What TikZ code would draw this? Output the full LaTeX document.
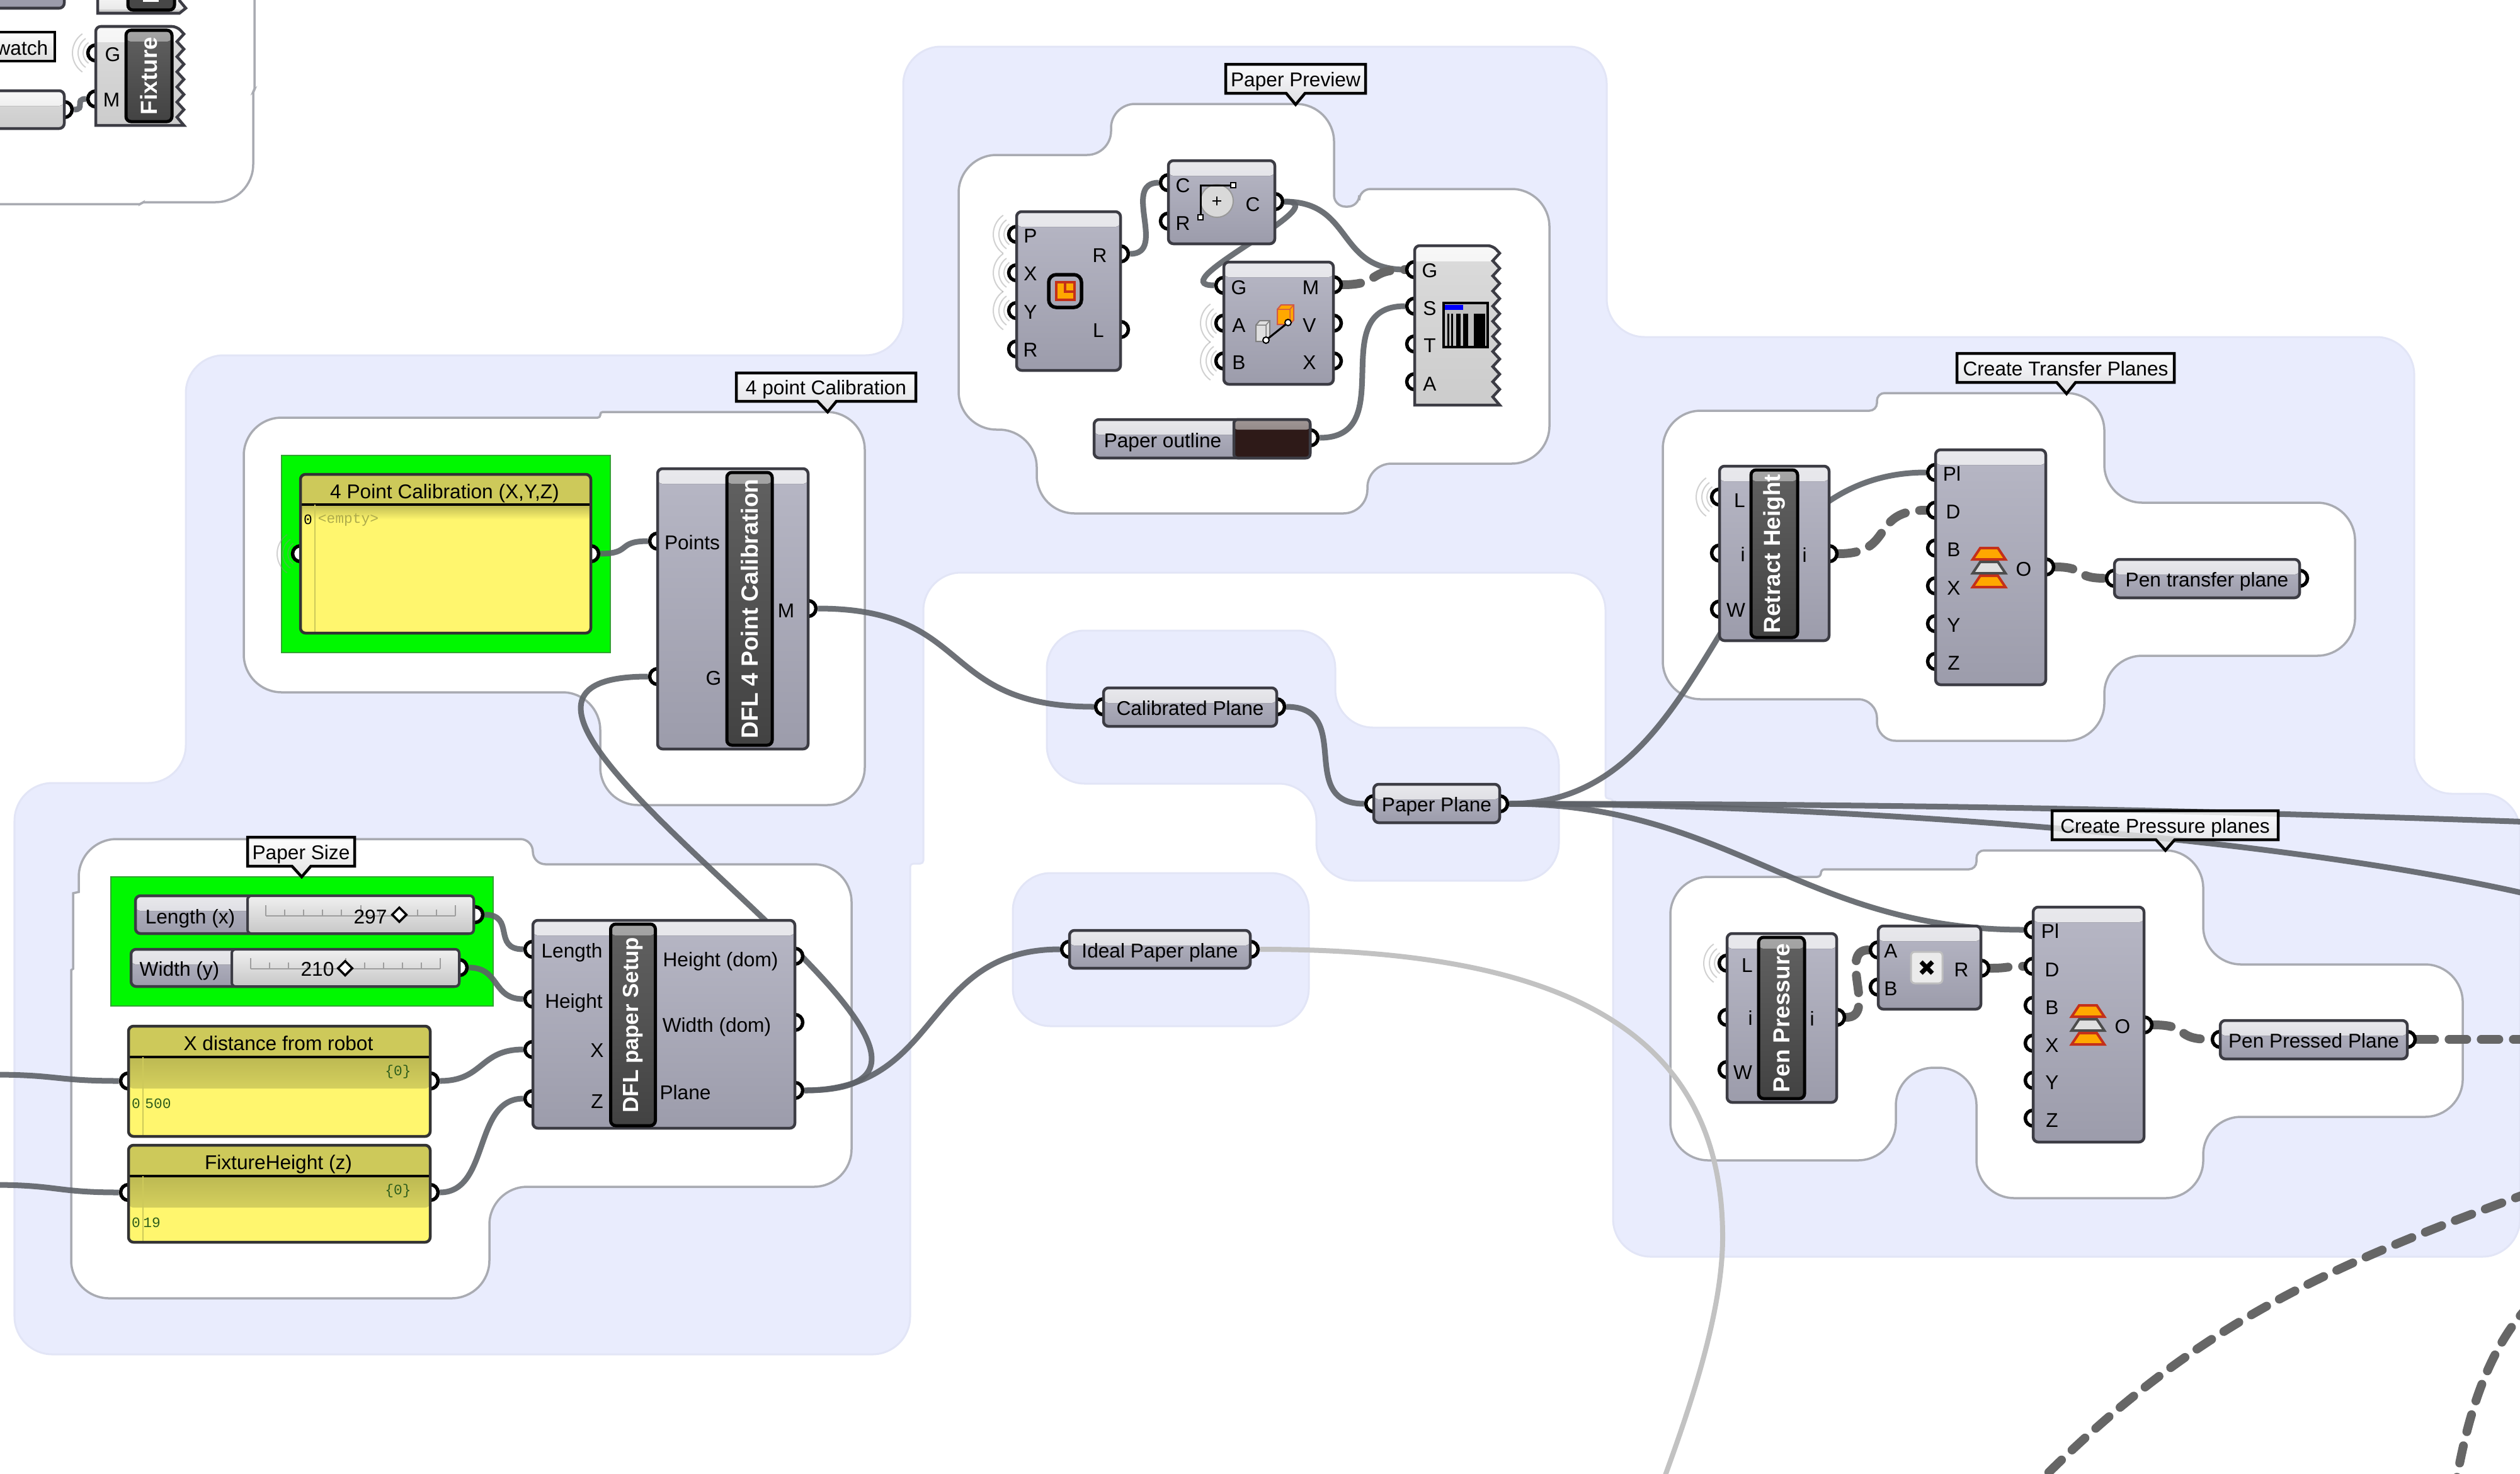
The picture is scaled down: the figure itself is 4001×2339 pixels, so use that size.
\documentclass[tikz,border=0pt]{standalone}
\usepackage{fontspec}
\setmainfont{Liberation Sans}
\setmonofont{Liberation Mono}
\usetikzlibrary{shapes.geometric,shapes.callouts}
\definecolor{lav}{HTML}{E9ECFD}
\definecolor{lavline}{HTML}{E2E5F6}
\definecolor{grpline}{HTML}{A9ABB2}
\definecolor{wirecol}{HTML}{5E6268}
\definecolor{compline}{HTML}{3C3C44}
\definecolor{comptop}{HTML}{B7B7C5}
\definecolor{compbot}{HTML}{9C9CAB}
\definecolor{bandtop}{HTML}{E8E8EC}
\definecolor{bandbot}{HTML}{D4D4DA}
\definecolor{bright}{HTML}{FFF66E}
\definecolor{head}{HTML}{CDC95A}
\definecolor{green1}{HTML}{00F800}
\definecolor{datacol}{HTML}{2F5E1C}
\definecolor{orange1}{HTML}{FFA800}
\definecolor{red1}{HTML}{C4301A}
\definecolor{swatch}{HTML}{2E1A18}
\newcommand{\ppb}{path picture bounding box}
\newcommand{\pfont}{\fontsize{9}{11}\selectfont}
\newcommand{\zigbox}[5]{\draw[zig body] (#1,#4) [rounded corners=.08cm] -- (#1,#3) -- ({#2-11},#3) [sharp corners]
  \foreach \k in {1,...,#5}{ -- (#2,{#3+24*\k-12}) -- ({#2-11},{#3+24*\k}) } -- (#2,#4) -- cycle;}
\newcommand{\halo}[1]{\foreach \r in {20,28,37} \draw[halo line,x=.01cm,y=.01cm] (#1.center) ++(125:\r) arc (125:235:\r);}
\newcommand{\planeicon}[2]{\begin{scope}[shift={(#1,#2)}]
  \foreach \d/\c/\e in {-22/orange1/red1,0/white!88!black/black!70,22/orange1/red1}
    \filldraw[fill=\c,draw=\e,line width=.04cm] (-26,\d+9) -- (-14,\d-9) -- (14,\d-9) -- (26,\d+9) -- cycle;
\end{scope}}
\newcommand{\ticks}[3]{\draw[tick line] (#1,#3) -- (#2,#3);
  \foreach \k in {0,...,10} \draw[tick line] ({#1+(#2-#1)*\k/10},#3) -- ++(0,-10);
  \foreach \k in {0,5,10} \draw[tick line] ({#1+(#2-#1)*\k/10},#3) -- ++(0,-17);}
\pgfdeclarelayer{groups}
\pgfdeclarelayer{wires}
\pgfsetlayers{groups,wires,main}
\begin{document}
\begin{tikzpicture}[x=.01cm,y=-.01cm,font=\pfont,
    sz/.style args={#1x#2}{minimum width=#1*.01cm,minimum height=#2*.01cm},
    lav group/.style={fill=lav,draw=lavline,line width=.03cm,rounded corners=.6cm},
    white group/.style={fill=white,draw=grpline,line width=.035cm,rounded corners=.6cm},
    green node/.style={rectangle,fill=green1,draw=green!55!black!80,line width=.025cm,inner sep=0},
    comp node/.style={rectangle,draw=compline,line width=.045cm,rounded corners=.08cm,inner sep=0,
      top color=comptop,bottom color=compbot,text height=.26cm,text depth=0cm,
      path picture={\fill[top color=bandtop,bottom color=bandbot] (\ppb.north west) rectangle ([yshift=-.24cm]\ppb.north east);}},
    light node/.style={comp node,top color=white!86!black,bottom color=white!80!black,
      path picture={\fill[top color=white!97!black,bottom color=white!90!black] (\ppb.north west) rectangle ([yshift=-.24cm]\ppb.north east);}},
    zig body/.style={draw=compline,line width=.045cm,top color=white!86!black,bottom color=white!80!black,
      path picture={\fill[top color=white!97!black,bottom color=white!90!black] (\ppb.north west) rectangle ([yshift=-.24cm]\ppb.north east);}},
    band node/.style={rectangle,draw=black,line width=.05cm,rounded corners=.08cm,inner sep=0,top color=black!62,bottom color=black!74,
      text=white,font=\fontsize{10.5}{12}\selectfont\bfseries,
      path picture={\fill[top color=black!35,bottom color=black!58] (\ppb.north west) rectangle ([yshift=-.18cm]\ppb.north east);}},
    panel node/.style n args={3}{rectangle,draw=black!80,line width=.045cm,rounded corners=.08cm,inner sep=0,fill=bright,
      path picture={\fill[head] (\ppb.north west) rectangle ([yshift=-#1]\ppb.north east);
        \fill[top color=head!92!black,bottom color=#3] ([yshift=-#1]\ppb.north west) rectangle ([yshift=-#2]\ppb.north east);
        \draw[black,line width=.04cm] ([yshift=-#1]\ppb.north west) -- ([yshift=-#1]\ppb.north east);
        \draw[head,line width=.025cm] ([xshift=.23cm,yshift=-#1]\ppb.north west) -- ([xshift=.23cm]\ppb.south west);}},
    track node/.style={rectangle,draw=compline,line width=.04cm,rounded corners=.06cm,inner sep=0,top color=white!94!black,bottom color=white!78!black},
    swatch node/.style={rectangle,draw=compline,line width=.045cm,rounded corners=.06cm,inner sep=0,fill=swatch,
      path picture={\fill[top color=swatch!45!white,bottom color=swatch!70!white] (\ppb.north west) rectangle ([yshift=-.16cm]\ppb.north east);}},
    tip node/.style={rectangle callout,draw=black,line width=.045cm,top color=white,bottom color=white!86!black,inner sep=0,
      callout pointer width=.3cm,fill opacity=.82,text opacity=1,text height=.24cm,text depth=0cm},
    tip box/.style={rectangle,draw=black,line width=.045cm,top color=white,bottom color=white!86!black,inner sep=0},
    port node/.style={circle,draw=black,fill=white,line width=.055cm,minimum size=.25cm,inner sep=0},
    port label/.style={inner sep=0,text height=.22cm,text depth=0cm},
    data label/.style={inner sep=0,text=datacol,font=\ttfamily\fontsize{6.5}{8}\selectfont},
    halo line/.style={draw=black!45,line width=.02cm,opacity=.4},
    tick line/.style={draw=black!38,line width=.02cm},
    wire/.style={draw=wirecol,line width=.09cm,opacity=.9},
    dash wire/.style={draw=black!60,line width=.14cm,line cap=round,dash pattern=on .28cm off .23cm},
    pale wire/.style={draw=black!24,line width=.08cm},
    gh/.style={out=0,in=180,distance=#1}]
\useasboundingbox (0,0) rectangle (4001,2339);
%%%%% groups
\begin{pgfonlayer}{groups}
\path[lav group] (23,1243) -- (295,1243) -- (295,564) -- (1434,564) -- (1434,74) -- (2551,74) -- (2551,535) -- (3833,535)
  -- (3833,1260) -- (4001,1260) -- (4001,1995) -- (2561,1995) [rounded corners=.05cm] -- (2561,1268) -- (2549,1268) [rounded corners=.6cm] -- (2549,909) -- (1466,909)
  [rounded corners=.05cm] -- (1466,1371) -- (1445,1371) [rounded corners=.6cm] -- (1445,2150) -- (23,2150) -- cycle;
\path[lav group] (1662,1001) -- (2120,1001) -- (2120,1155) -- (2475,1155) -- (2475,1398) -- (2090,1398) -- (2090,1244) -- (1662,1244) -- cycle;
\path[lav group] (1608,1386) -- (2078,1386) -- (2078,1629) -- (1608,1629) -- cycle;
%%%%%
\draw[white group] (-20,324) [rounded corners=.02cm] -- (224,324) -- (226,321) [rounded corners=.6cm] -- (402,321) [rounded corners=.02cm] -- (402,145) -- (404,143) -- (404,-20);
\draw[white group] (387,663) [rounded corners=.04cm] -- (953,663) -- (953,654) [rounded corners=.6cm] -- (1373,654) -- (1373,1278) -- (953,1278) -- (953,1099) -- (387,1099) -- cycle;
\draw[white group] (125,1332) [rounded corners=.2cm] -- (846,1332) -- (846,1372) [rounded corners=.6cm] -- (1352,1372) -- (1352,1884) -- (777,1884) -- (777,2061) -- (113,2061)
  [sharp corners] -- (113,1540) -- (116,1538) -- (116,1418) -- (125,1416) [rounded corners=.6cm] -- cycle;
\draw[white group] (1522,246) [rounded corners=.38cm] -- (1764,246) -- (1764,165) [rounded corners=.6cm] -- (2118,165) [rounded corners=.18cm] -- (2118,328) -- (2158,328) -- (2158,300) [rounded corners=.6cm] -- (2460,300) -- (2460,736)
  [rounded corners=.38cm] -- (2171,736) -- (2171,815) [rounded corners=.6cm] -- (1646,815) -- (1646,682) -- (1522,682) -- cycle;
\draw[white group] (2640,652) [rounded corners=.12cm] -- (2980,652) -- (2980,624) [rounded corners=.6cm] -- (3341,624) -- (3341,798) -- (3739,798) -- (3739,1041) -- (3341,1041) -- (3341,1176)
  [rounded corners=.3cm] -- (2980,1176) -- (2980,1110) [rounded corners=.6cm] -- (2640,1110) -- cycle;
\draw[white group] (2652,1392) [rounded corners=.06cm] -- (2891,1392) -- (2891,1380) [rounded corners=.12cm] -- (3138,1380) -- (3138,1350) [rounded corners=.6cm] -- (3498,1350) -- (3498,1531) -- (3910,1531) -- (3910,1773) -- (3498,1773) -- (3498,1902) -- (3138,1902) -- (3138,1695) -- (3010,1695) -- (3010,1842) -- (2652,1842) -- cycle;
%%%%%
\node[green node,sz=607x205] (paperGreen) at (479.5,1494.5) {};
\node[green node,sz=522x313] (calibGreen) at (708,879.5) {};
\end{pgfonlayer}
%%%%% free ends of wires
\coordinate (offSw) at (-10,1706);
\coordinate (offFix) at (-10,1881);
\coordinate (offLongA) at (4020,1305);
\coordinate (offLongB) at (4020,1421);
\coordinate (offPen) at (4020,1650);
\coordinate (offDashA) at (4020,1892);
\coordinate (offDashB) at (3240,2350);
\coordinate (offDashC) at (4020,2068);
\coordinate (offDashD) at (3900,2350);
\coordinate (paleBend) at (2735,1964);
\coordinate (offPale) at (2641,2350);
%%%%% halos
\foreach \p/\x/\y in {hFixG/152/84,hCalib/477/879,hRectP/1614/372,hRectX/1614/433,hRectY/1614/493,hMoveA/1943/513,hMoveB/1943/573,hRetL/2730/789,hPenL/2742/1529}
  {\coordinate (\p) at (\x,\y); \halo{\p}}
%%%%% ports
\foreach \n/\x/\y in {fixG/152/84,fixM/152/157,swOut/102/174,
    lenOut/754/1452,widOut/729/1536,xIn/204/1716,xOut/683/1716,zIn/204/1893,zOut/683/1893,
    setLen/846/1507,setHei/846/1586,setX/846/1666,setZ/846/1744,setHd/1262/1518,setWd/1262/1623,setPl/1262/1731,
    ptsIn/477/879,ptsOut/938/879,calPts/1044/859,calG/1044/1074,calM/1283/966,
    rectP/1614/372,rectX/1614/433,rectY/1614/493,rectR/1614/554,rectOr/1779/403,rectOl/1779/523,
    circC/1855/290,circR/1855/351,circO/2024/320,
    moveG/1943/453,moveA/1943/513,moveB/1943/573,moveM/2117/452,moveV/2117/513,moveX/2117/573,
    pvG/2246/428,pvS/2246/486,pvT/2246/546,pvA/2246/606,colOut/2080/695,
    cpIn/1752/1122,cpOut/2027/1122,ppIn/2181/1276,ppOut/2381/1276,ideIn/1698/1507,ideOut/1985/1507,
    retL/2730/789,retI/2730/878,retW/2730/967,retO/2904/879,
    tpPl/3073/750,tpD/3073/810,tpB/3073/870,tpX/3073/930,tpY/3073/990,tpZ/3073/1050,tpO/3248/900,
    ptIn/3357/918,ptOut/3651/918,
    penL/2742/1529,penI/2742/1615,penW/2742/1698,penO/2916/1615,
    mulA/2982/1508,mulB/2982/1567,mulR/3145/1537,
    prPl/3228/1476,prD/3228/1534,prB/3228/1596,prX/3228/1656,prY/3228/1715,prZ/3228/1775,prO/3404/1627,
    ppsIn/3525/1650,ppsOut/3822/1650}
  \node[port node] (\n) at (\x,\y) {};
%%%%% top left corner
\draw[draw=compline,fill=compbot,line width=.045cm,rounded corners=.08cm] (-10,-10) rectangle (102,13);
\zigbox{152}{292}{42}{199}{6}
\draw[zig body] (155,-10) -- (155,21) -- (285,21) -- (295,13) -- (285,1) -- (285,-10) -- cycle;
\fill[black!72,draw=black,line width=.05cm,rounded corners=.08cm] (203,-10) rectangle (277,16);
\fill[white] (227,-2) rectangle (252,3);
\node[band node,sz=73x145] (fixBand) at (236.5,120.5) {\rotatebox[origin=c]{90}{Fixture}};
\node[light node,sz=120x60] (swBox) at (42,174) {};
\node[tip box,sz=120x46] (swTip) at (27,74) {};
\node[port label,anchor=east] (swText) at (77,76) {watch};
%%%%% paper size
\node[comp node,sz=537x60] (lenBox) at (483.5,1452) {};
\node[track node,sz=359x60] (lenTrack) at (572.5,1452) {};
\node[port label] (lenText) at (302,1455) {Length (x)};
\ticks{422}{723}{1454}
\node[port label] (lenVal) at (588,1455) {297};
\node[diamond,draw=black,fill=white,line width=.035cm,minimum size=.24cm,inner sep=0] (lenDia) at (634,1452) {};
\node[comp node,sz=521x59] (widBox) at (468.5,1536.5) {};
\node[track node,sz=361x59] (widTrack) at (548.5,1536.5) {};
\node[port label] (widText) at (285,1538) {Width (y)};
\ticks{398}{699}{1538}
\node[port label] (widVal) at (504,1538) {210};
\node[diamond,draw=black,fill=white,line width=.035cm,minimum size=.24cm,inner sep=0] (widDia) at (548,1537) {};
%%%%%
\node[panel node={.49cm}{.99cm}{head!85!bright},sz=479x175] (xPanel) at (443.5,1716.5) {};
\node[port label] (xTitle) at (442,1656) {X distance from robot};
\node[data label] (xSet) at (632,1702) {\{0\}};
\node[data label] (xIdx) at (216,1752) {0};
\node[data label] (xVal) at (251,1752) {500};
\node[panel node={.49cm}{.99cm}{head!85!bright},sz=479x154] (zPanel) at (443.5,1895) {};
\node[port label] (zTitle) at (442,1845) {FixtureHeight (z)};
\node[data label] (zSet) at (632,1891) {\{0\}};
\node[data label] (zIdx) at (216,1941) {0};
\node[data label] (zVal) at (241,1941) {19};
%%%%%
\node[comp node,sz=416x330] (setup) at (1054,1626) {};
\node[band node,sz=71x320,font=\fontsize{9.9}{12}\selectfont\bfseries] (setupBand) at (1005,1627) {\rotatebox[origin=c]{90}{DFL paper Setup}};
%%%%% 4 point calibration
\node[panel node={.48cm}{.72cm}{bright},sz=461x252] (ptsPanel) at (707.5,879) {};
\node[port label] (ptsTitle) at (706,780) {4 Point Calibration (X,Y,Z)};
\node[data label,text=black] (ptsIdx) at (489,825) {0};
\node[data label,text=head!85!black] (ptsEmpty) at (553,825) {<empty>};
\node[comp node,sz=239x445] (calib) at (1163.5,966.5) {};
\node[band node,sz=72x433,font=\fontsize{10.6}{13}\selectfont\bfseries] (calibBand) at (1190,966.5) {\rotatebox[origin=c]{90}{DFL 4 Point Calibration}};
%%%%% paper preview
\node[comp node,sz=165x252] (rect) at (1696.5,462) {};
\node[comp node,sz=169x132] (circ) at (1939.5,321) {};
\node[comp node,sz=174x194] (move) at (2030,513) {};
\zigbox{2246}{2381}{390}{643}{10}
\node[comp node,sz=343x61] (col) at (1908.5,696.5) {};
\node[swatch node,sz=121x61] (colSwatch) at (2019.5,696.5) {};
\node[port label] (colText) at (1846,699) {Paper outline};
%%%%% icons
\draw[black,line width=.055cm,rounded corners=.12cm] (1665,436) rectangle (1717,488);
\filldraw[fill=orange1,draw=red1,line width=.04cm] (1677,448) rectangle (1706,476);
\draw[red1,line width=.035cm] (1691,450) -- (1691,463) -- (1704,463);
\filldraw[fill=white!85!black,draw=black!40,line width=.02cm] (1932,319) circle (.26cm);
\draw[black,line width=.02cm] (1925,319) -- (1939,319) (1932,312) -- (1932,326);
\draw[black,line width=.03cm] (1958,294) -- (1906,294) -- (1906,345);
\filldraw[fill=white,draw=black,line width=.02cm] (1954,290) rectangle (1962,298) (1902,341) rectangle (1910,349);
\filldraw[fill=white!88!black,draw=black!50,line width=.02cm] (1994,516) -- (2000,509) -- (2016,509) -- (2016,535) -- (2010,542) -- (1994,542) -- cycle;
\draw[black!50,line width=.015cm] (1994,516) -- (2010,516) -- (2016,509) (2010,516) -- (2010,542);
\filldraw[fill=orange1,draw=red1!80,line width=.02cm] (2028,491) -- (2034,484) -- (2054,484) -- (2054,508) -- (2048,515) -- (2028,515) -- cycle;
\draw[red1!80,line width=.015cm] (2028,491) -- (2048,491) -- (2054,484) (2048,491) -- (2048,515);
\draw[black,line width=.03cm] (2010,540) -- (2045,512);
\filldraw[fill=white,draw=black,line width=.02cm] (2045,512) circle (.05cm) (2010,540) circle (.05cm);
\filldraw[fill=black!25,draw=black,line width=.035cm] (2292,481) rectangle (2362,551);
\fill[blue] (2294,484) rectangle (2323,492);
\foreach \x/\w in {2298/3,2304/3,2312/7,2323/8,2340/18}
  \fill[black] (\x,498) rectangle ({\x+\w},549);
%%%%% planes
\node[comp node,sz=275x61] (cp) at (1889.5,1122.5) {Calibrated Plane};
\node[comp node,sz=200x61] (pp) at (2281,1275.5) {Paper Plane};
\node[comp node,sz=287x60] (ide) at (1841.5,1507) {Ideal Paper plane};
%%%%% transfer planes
\node[comp node,sz=174x277] (ret) at (2817,878.5) {};
\node[band node,sz=74x266] (retBand) at (2817,879) {\rotatebox[origin=c]{90}{Retract Height}};
\node[comp node,sz=175x373] (tp) at (3160.5,900.5) {};
\node[comp node,sz=294x61] (pt) at (3504,918.5) {Pen transfer plane};
%%%%% pressure planes
\node[comp node,sz=174x268] (pen) at (2829,1616) {};
\node[band node,sz=73x256] (penBand) at (2828.5,1616) {\rotatebox[origin=c]{90}{Pen Pressure}};
\node[comp node,sz=163x132] (mul) at (3063.5,1536) {};
\node[comp node,sz=176x373] (pr) at (3316,1626.5) {};
\node[comp node,sz=297x61] (pps) at (3673.5,1650.5) {Pen Pressed Plane};
\filldraw[fill=white!92!black,draw=black!25,line width=.03cm,rounded corners=.06cm] (3034,1511) rectangle (3084,1561);
\draw[black,line width=.07cm] (3050,1527) -- (3068,1545) (3068,1527) -- (3050,1545);
\planeicon{3158}{901}
\planeicon{3315}{1627}
%%%%% labels
\foreach \t/\x/\y [count=\n] in {G/179/86,M/177/158,
    Length/908/1509,Height/911/1589,X/948/1667,Z/948/1748,Height (dom)/1144/1523,Width (dom)/1138/1627,Plane/1088/1734,
    Points/1099/861,G/1133/1076,M/1248/969,
    P/1636/374,X/1636/434,Y/1636/495,R/1636/555,R/1746/405,L/1744/524,
    C/1878/294,R/1878/354,C/1989/324,
    G/1967/456,A/1967/516,B/1967/575,M/2081/456,V/2079/516,X/2079/575,
    G/2270/429,S/2270/489,T/2270/548,A/2270/609,
    L/2762/794,i/2767/880,W/2756/968,i/2865/881,
    Pl/3099/752,D/3101/812,B/3102/872,X/3102/933,Y/3102/992,Z/3102/1052,O/3213/903,
    L/2774/1532,i/2779/1616,W/2767/1702,i/2877/1617,
    A/3002/1509,B/3002/1569,R/3114/1539,
    Pl/3255/1478,D/3258/1539,B/3258/1599,X/3258/1659,Y/3258/1718,Z/3258/1778,O/3370/1629}
  \node[port label] (lab\n) at (\x,\y) {\t};
%%%%% tooltips
\node[tip node,sz=170x46,callout absolute pointer={(479,1392)}] (tipSize) at (478,1352) {Paper Size};
\node[tip node,sz=285x45,callout absolute pointer={(1314,654)}] (tipCalib) at (1311.5,614.5) {4 point Calibration};
\node[tip node,sz=222x46,callout absolute pointer={(2057,166)}] (tipPreview) at (2057,125) {Paper Preview};
\node[tip node,sz=345x46,callout absolute pointer={(3281,625)}] (tipTransfer) at (3279.5,584) {Create Transfer Planes};
\node[tip node,sz=359x46,callout absolute pointer={(3438,1350)}] (tipPressure) at (3437.5,1310) {Create Pressure planes};
%%%%% wires
\begin{pgfonlayer}{wires}
\path[wire]
  (offSw) edge[gh=1cm] (xIn)
  (offFix) edge[gh=1cm] (zIn)
  (swOut) edge[gh=.2cm] (fixM)
  (lenOut) edge[gh=.5cm] (setLen)
  (widOut) edge[gh=.5cm] (setHei)
  (xOut) edge[gh=.7cm] (setX)
  (zOut) edge[gh=.8cm] (setZ)
  (setPl) edge[gh=4.5cm] (calG)
          edge[gh=2.2cm] (ideIn)
  (ptsOut) edge[gh=.5cm] (calPts)
  (calM) edge[gh=2.5cm] (cpIn)
  (cpOut) edge[gh=1.1cm] (ppIn)
  (ppOut) edge[gh=3.4cm] (tpPl)
          edge[gh=3.5cm] (prPl)
          edge[out=0,in=178,distance=6cm] (offLongA)
          edge[out=0,in=167,distance=4.5cm] (offLongB)
  (rectOr) edge[gh=.6cm] (circC)
  (circO) edge[gh=1.1cm] (pvG)
          edge[gh=.9cm] (moveG)
  (colOut) edge[gh=1.3cm] (pvS);
\path[dash wire]
  (moveM) edge[gh=.6cm] (pvG)
  (retO) edge[gh=.9cm] (tpD)
  (tpO) edge[gh=.5cm] (ptIn)
  (penO) edge[gh=.5cm] (mulA)
  (mulR) edge[gh=.3cm] (prD)
  (prO) edge[gh=.6cm] (ppsIn)
  (ppsOut) edge (offPen)
  (offDashA) edge[out=200,in=45,distance=3.5cm] (offDashB)
  (offDashC) edge[out=225,in=80,distance=1cm] (offDashD);
\path[pale wire]
  (ideOut) edge[out=0,in=90,out min distance=4.6cm,out max distance=4.6cm,in min distance=3.4cm,in max distance=3.4cm] (paleBend)
  (paleBend) edge[out=-90,in=70,distance=1.2cm] (offPale);
\end{pgfonlayer}
\end{tikzpicture}
\end{document}
